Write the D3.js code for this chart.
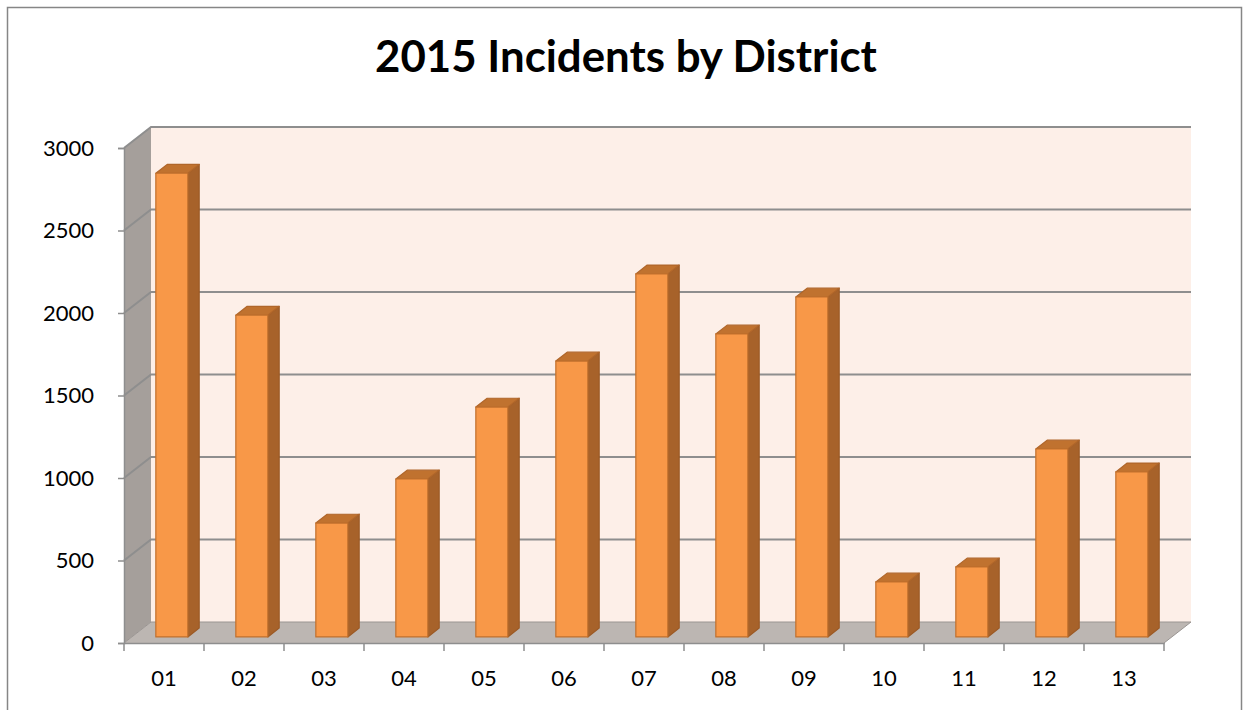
<!DOCTYPE html>
<html>
<head>
<meta charset="utf-8">
<script src="https://cdn.jsdelivr.net/npm/d3@7"></script>
<style>
  html, body { margin: 0; padding: 0; background: #ffffff; }
  svg { display: block; }
  text { font-family: Lato, "Open Sans", sans-serif; fill: #000; }
</style>
</head>
<body>
<svg id="chart" width="1243" height="710"></svg>
<script>
// Incident counts per district, 2015
const districts = ["01", "02", "03", "04", "05", "06", "07", "08", "09", "10", "11", "12", "13"];
const incidents = [2810, 1950, 690, 957, 1393, 1672, 2200, 1836, 2060, 333, 424, 1139, 1000];
const yTicks = [0, 500, 1000, 1500, 2000, 2500, 3000];
const chartTitle = "2015 Incidents by District";

const svg = d3.select("#chart");

// Outer chart frame
svg.append("rect")
  .attr("x", 7.5).attr("y", 7.5)
  .attr("width", 1234).attr("height", 740)
  .attr("fill", "#fff").attr("stroke", "#868686").attr("stroke-width", 1.5);

// Front plane of the 3D box, plus depth offset for the back wall
const x0 = 124, x1 = 1164;
const yBottom = 643, yTop = 148;
const depthX = 27, depthY = -21;

const x = d3.scaleBand().domain(districts).range([x0, x1]);
const y = d3.scaleLinear().domain([0, 3000]).range([yBottom, yTop]);

// Walls and floor
const wallG = svg.append("g");
wallG.append("rect")
  .attr("x", x0 + depthX).attr("y", yTop + depthY)
  .attr("width", x1 - x0).attr("height", yBottom - yTop)
  .attr("fill", "#fdefe8");
wallG.append("polygon")
  .attr("points", [[x0, yTop], [x0 + depthX, yTop + depthY], [x0 + depthX, yBottom + depthY], [x0, yBottom]].join(" "))
  .attr("fill", "#a59f9b");
wallG.append("polygon")
  .attr("points", [[x0, yBottom], [x0 + depthX, yBottom + depthY], [x1 + depthX, yBottom + depthY], [x1, yBottom]].join(" "))
  .attr("fill", "#bcb6b2");

// Gridlines across the side and back walls
const gridG = svg.append("g").attr("stroke", "#8e8e8e").attr("stroke-width", 2).attr("fill", "none");
yTicks.filter(t => t > 0).forEach(t => {
  gridG.append("path")
    .attr("d", `M${x0},${y(t)} L${x0 + depthX},${y(t) + depthY} L${x1 + depthX},${y(t) + depthY}`);
});
// Edge where side wall meets the floor
svg.append("path")
  .attr("d", `M${x0},${yBottom} L${x0 + depthX},${yBottom + depthY} L${x1 + depthX},${yBottom + depthY} L${x1},${yBottom}`)
  .attr("fill", "none").attr("stroke", "#9a9592").attr("stroke-width", 1);

// Bars: front face, top face, right side face
const zFront = 0.29, zBack = 0.71;
const barG = svg.append("g");
districts.forEach((d, i) => {
  const v = incidents[i];
  const bw = x.bandwidth();
  const lx = x(d) + 0.3 * bw + zFront * depthX;
  const rx = x(d) + 0.7 * bw + zFront * depthX;
  const ty = y(v) + zFront * depthY;
  const by = y(0) + zFront * depthY;
  const ddx = (zBack - zFront) * depthX;
  const ddy = (zBack - zFront) * depthY;
  const g = barG.append("g").attr("stroke", "#c1702c").attr("stroke-width", 1.2).attr("stroke-linejoin", "round");
  // side
  g.append("polygon")
    .attr("points", [[rx, ty], [rx + ddx, ty + ddy], [rx + ddx, by + ddy], [rx, by]].join(" "))
    .attr("fill", "#a7622a").attr("stroke", "#9c5a25");
  // top
  g.append("polygon")
    .attr("points", [[lx, ty], [lx + ddx, ty + ddy], [rx + ddx, ty + ddy], [rx, ty]].join(" "))
    .attr("fill", "#c0722f").attr("stroke", "#b0662a");
  // front
  g.append("rect")
    .attr("x", lx).attr("y", ty)
    .attr("width", rx - lx).attr("height", by - ty)
    .attr("fill", "#f89848");
});

// Value axis on the front-left edge
const yAxis = d3.axisLeft(y).tickValues(yTicks).tickSize(6).tickPadding(24).tickFormat(d3.format("d"));
const yAxisG = svg.append("g").attr("transform", `translate(${x0},0)`).call(yAxis);
yAxisG.select(".domain").attr("stroke", "#8e8e8e").attr("stroke-width", 1.5);
yAxisG.selectAll(".tick line").attr("stroke", "#8e8e8e").attr("stroke-width", 1.5);
yAxisG.selectAll(".tick text").attr("font-size", 22).attr("font-family", "Lato, sans-serif").attr("fill", "#000");

// Category axis along the front floor edge
const xAxis = d3.axisBottom(x).tickSize(0).tickPadding(27);
const xAxisG = svg.append("g").attr("transform", `translate(0,${yBottom})`).call(xAxis);
xAxisG.select(".domain").attr("stroke", "#8e8e8e").attr("stroke-width", 1.5);
xAxisG.selectAll(".tick text").attr("font-size", 22).attr("font-family", "Lato, sans-serif").attr("fill", "#000");
// Tick marks sit on the category boundaries
const bounds = districts.map(d => x(d)).concat([x1]);
svg.append("g").selectAll("line").data(bounds).join("line")
  .attr("x1", d => d).attr("x2", d => d)
  .attr("y1", yBottom).attr("y2", yBottom + 8)
  .attr("stroke", "#8e8e8e").attr("stroke-width", 1.5);

// Title
const title = svg.append("text")
  .attr("x", 626).attr("y", 72)
  .attr("text-anchor", "middle")
  .attr("font-weight", 700)
  .attr("font-size", 40)
  .text(chartTitle);
const w = title.node().getComputedTextLength();
title.attr("font-size", 40 * 502 / w);
</script>
</body>
</html>
